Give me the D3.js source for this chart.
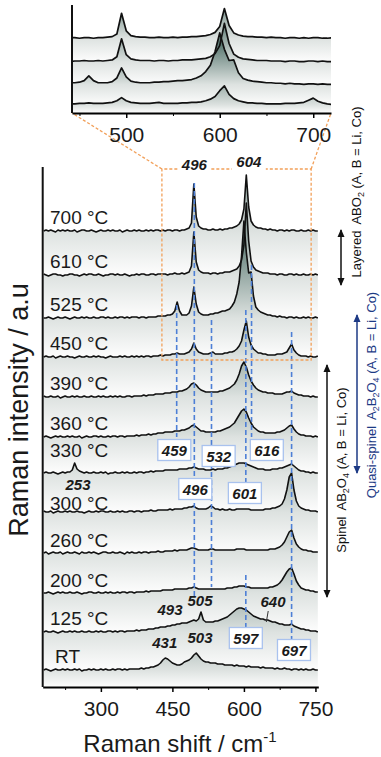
<!DOCTYPE html>
<html lang="en">
<head>
<meta charset="UTF-8">
<title>Raman spectra vs temperature</title>
<script src="https://d3js.org/d3.v7.min.js"></script>
<style>
    body{
        margin: 0;
        background: white;
    }
    svg{
        display: block;
        font-family: "Liberation Sans", Arial, sans-serif;
    }
</style>
</head>
<body>
<svg></svg>
<script>
    const width = 381;
    const height = 757;

    /* spectra sampled every 5 cm-1, from 180 to 755 */
    const shifts = d3.range(180, 756, 5);

    const temps = ['700 °C', '610 °C', '525 °C', '450 °C', '390 °C', '360 °C',
                   '330 °C', '300 °C', '260 °C', '200 °C', '125 °C', 'RT'];
    /* vertical stacking offset of every spectrum (a.u.) */
    const offsets = [456, 412, 369, 330, 290, 250, 214, 175, 134, 94, 55, 17];

    const s700 = [0,1,0,1,0,-1,1,0,1,0, 1,0,0,1,-1,0,1,1,0,0, 1,0,-1,0,1,0,0,1,0,1,
        0,0,1,-1,0,1,0,0,1,0, 1,0,0,1,0,1,0,1,1,0, 1,0,1,1,0,1,1,0,1,1,
        2,3,8,47,14,5,3,2,2,1, 1,2,1,1,2,1,2,2,3,3, 4,5,7,11,22,56,24,10,6,4,
        3,3,2,2,1,2,1,1,0,1, 1,0,1,0,1,1,0,0,1,0, 0,1,0,1,0,0];
    const s610 = [1,0,-1,0,1,1,0,0,-1,0, 0,1,1,0,0,-1,0,1,0,1, 1,0,0,1,0,-1,0,0,1,1,
        0,1,0,0,1,0,-1,0,0,1, 0,1,1,0,0,1,1,0,1,1, 1,1,0,1,1,2,1,1,2,1,
        2,3,9,43,13,5,3,2,2,2, 1,2,2,1,2,2,3,3,3,4, 5,6,9,15,30,72,34,14,8,5,
        4,3,2,2,2,1,1,1,0,1, 1,0,0,1,1,0,1,0,0,1, 0,0,1,0,1,0];
    const s525 = [0,0,1,0,-1,0,1,0,0,1, 0,-1,0,1,0,0,1,0,1,0, 0,1,0,0,1,1,0,1,0,0,
        1,0,1,1,0,1,0,1,1,1, 0,1,1,0,1,1,1,1,2,2, 2,2,3,3,4,7,16,7,3,3,
        3,5,12,31,14,6,4,3,3,3, 4,4,5,5,6,7,7,8,9,12, 16,24,36,62,97,66,45,46,22,11,
        8,6,5,4,3,3,2,2,1,2, 1,1,0,1,1,0,1,0,0,1, 0,1,0,0,1,0];
    const s450 = [0,1,0,0,1,-1,0,1,0,0, 1,0,0,-1,0,1,0,0,1,0, 0,1,0,1,0,0,-1,0,1,0,
        0,0,1,0,1,0,0,1,0,1, 0,1,0,1,1,0,1,1,1,2, 1,2,2,2,3,3,4,3,3,3,
        4,5,8,14,8,5,4,3,3,3, 4,5,3,3,3,3,4,4,5,5, 6,8,11,16,27,36,20,12,8,6,
        4,4,3,3,2,2,2,2,3,3, 3,4,5,9,13,7,4,2,1,1, 1,0,1,0,0,1];
    const s390 = [1,0,0,1,0,0,1,-1,0,1, 0,0,1,0,1,0,0,1,0,0, 1,0,0,1,0,1,0,0,1,0,
        1,0,1,0,0,1,1,0,1,1, 1,1,2,1,2,2,2,3,3,3, 3,4,4,4,5,5,5,6,6,7,
        8,10,13,14,12,9,7,6,5,5, 5,5,5,5,6,6,7,8,9,11, 13,17,23,31,35,30,22,16,12,9,
        7,6,5,5,4,4,4,3,3,3, 3,4,5,5,6,4,3,2,2,1, 1,1,0,1,0,0];
    const s360 = [0,1,0,-1,0,1,0,1,0,0, 1,0,1,0,0,1,-1,0,1,0, 0,1,1,0,1,0,0,1,0,1,
        1,0,1,1,0,1,1,1,1,2, 1,2,2,2,3,2,3,3,4,4, 4,5,5,5,5,6,6,6,7,7,
        8,9,11,12,10,8,6,6,5,5, 5,5,5,6,6,7,8,9,10,12, 14,18,22,26,28,25,19,14,10,8,
        6,5,5,4,4,4,4,4,5,5, 6,7,9,11,12,8,5,3,2,2, 1,1,1,0,1,0];
    const s330 = [0,1,0,0,1,0,-1,0,1,0, 1,1,3,10,4,2,1,0,1,0, 0,1,0,0,1,0,1,-1,0,0,
        1,0,0,1,0,1,0,0,1,0, 1,1,0,1,1,2,1,2,2,2, 2,3,3,3,3,3,3,4,4,4,
        4,5,5,6,5,4,4,4,3,3, 3,4,3,4,4,4,5,5,6,7, 8,9,10,10,10,9,8,7,6,5,
        4,4,4,3,3,3,4,4,4,5, 5,6,7,8,9,7,5,3,2,2, 1,1,0,1,0,0];
    const s300 = [1,0,0,1,-1,0,1,0,0,1, 0,1,0,0,1,0,0,-1,0,1, 0,0,1,0,1,1,0,0,1,0,
        0,1,0,1,0,0,1,1,0,1, 1,0,1,1,1,2,1,1,2,2, 2,2,2,3,2,3,3,3,3,4,
        4,5,5,6,4,3,3,3,3,4, 6,5,3,3,2,3,2,2,3,2, 2,3,3,3,3,3,3,2,2,2,
        2,2,2,3,3,3,4,4,5,6, 8,13,22,35,39,22,11,6,4,3, 2,2,1,1,1,0];
    const s260 = [0,1,-1,0,1,0,0,1,-1,0, 1,0,0,1,0,-1,1,0,0,1, 0,1,0,-1,0,1,1,0,0,1,
        0,0,1,0,-1,1,0,1,0,0, 1,0,1,1,0,1,1,1,2,1, 1,2,2,2,2,3,2,3,3,3,
        3,4,5,5,4,3,3,3,3,3, 4,4,3,3,3,3,3,3,3,3, 3,4,4,4,4,3,3,3,3,3,
        3,3,3,3,3,4,4,4,5,6, 8,11,16,21,23,15,9,6,4,3, 3,2,2,1,1,1];
    const s200 = [0,0,1,0,-1,0,1,0,1,0, 0,1,0,0,1,0,-1,0,0,1, 1,0,0,1,0,0,1,0,1,0,
        0,1,0,1,1,0,1,1,0,1, 1,1,1,2,1,2,2,2,2,2, 3,3,3,3,3,4,4,4,4,4,
        4,5,5,6,5,4,4,4,4,4, 4,4,4,4,4,4,4,5,5,5, 6,6,7,7,7,6,6,5,5,5,
        5,5,5,5,5,6,6,7,8,10, 13,17,21,24,25,19,12,8,5,4, 3,3,2,2,1,1];
    const s125 = [0,1,0,0,1,0,-1,0,1,0, 0,1,0,1,0,0,1,0,0,1, 0,0,1,0,1,0,0,1,1,0,
        1,0,1,1,0,1,1,1,1,2, 1,2,2,2,3,3,3,4,4,5, 5,5,6,6,7,7,8,8,9,9,
        9,10,11,12,11,13,20,12,10,10, 10,10,11,11,12,13,14,15,17,19, 21,23,24,24,23,22,20,18,16,15,
        14,13,13,12,12,11,10,10,9,8, 8,7,7,7,8,6,5,4,3,3, 2,2,1,1,1,0];
    const sRT = [0,1,0,-1,0,1,0,0,1,0, 1,0,0,1,0,1,-1,0,0,1, 0,1,0,0,1,0,1,0,0,1,
        0,1,1,0,1,0,1,1,1,1, 1,2,1,2,2,3,3,4,5,7, 10,12,11,9,7,6,5,5,6,8,
        9,10,12,15,17,14,11,9,8,8, 7,7,7,6,6,6,5,5,5,5, 4,5,4,4,4,3,4,3,3,3,
        3,2,3,2,2,2,2,1,2,1, 1,2,1,1,0,1,1,0,1,0, 1,0,0,1,0,0];

    const spectra = [s700, s610, s525, s450, s390, s360, s330, s300, s260, s200, s125, sRT];

    const xTicks = [300, 450, 600, 750];
    const xMinor = [225, 375, 525, 675];
    const insetTicks = [500, 600, 700];
    const insetMinor = [450, 550, 650];

    /* blue guide lines: shift, top and bottom in a.u. */
    const guides = [
        {shift: 459, from: 382, to: 250},
        {shift: 496, from: 504, to: 90},
        {shift: 532, from: 367, to: 100},
        {shift: 604, from: 377, to: 204},
        {shift: 604, from: 112, to: 59},
        {shift: 616, from: 422, to: 250},
        {shift: 700, from: 355, to: 47}
    ];
    /* boxed peak labels: centre shift, centre a.u. */
    const boxed = [
        {text: '459', shift: 454, v: 237},
        {text: '532', shift: 547, v: 231},
        {text: '616', shift: 648, v: 237},
        {text: '496', shift: 498, v: 198},
        {text: '601', shift: 602, v: 194},
        {text: '597', shift: 604, v: 49},
        {text: '697', shift: 705, v: 37}
    ];
    /* free peak labels: centre shift, baseline a.u. */
    const peakLabels = [
        {text: '253', shift: 252, v: 197},
        {text: '493', shift: 445, v: 72},
        {text: '505', shift: 508, v: 81},
        {text: '640', shift: 661, v: 80},
        {text: '431', shift: 434, v: 39},
        {text: '503', shift: 508, v: 44}
    ];
    const labelLift = [7, 7, 7, 7, 7, 7, 16, 2, 6, 6, 7, 7];

    const svg = d3.select('svg')
        .attr('width', width)
        .attr('height', height);
    const defs = svg.append('defs');

    const x = d3.scaleLinear().domain([178, 756]).range([42.7, 318.3]);
    const y = d3.scaleLinear().domain([0, 520]).range([687, 167]);

    /* inset scales (zoom on the four top spectra) */
    const xi = d3.scaleLinear().domain([442, 719]).range([72, 331]);
    const yi = d3.scaleLinear().domain([330, 530]).range([105, -1]);

    function points(k){
        return spectra[k].map((v, i) => [shifts[i], offsets[k] + v]);
    }

    /* gradient under each spectrum: dark on tall peaks, grey at baseline, white below */
    function addGradient(id, yTop, yBase, yBottom){
        const g = defs.append('linearGradient')
            .attr('id', id)
            .attr('gradientUnits', 'userSpaceOnUse')
            .attr('x1', 0).attr('x2', 0)
            .attr('y1', yTop).attr('y2', yBottom);
        g.append('stop').attr('offset', 0).attr('stop-color', '#5c7a73');
        g.append('stop').attr('offset', (yBase - yTop) / (yBottom - yTop)).attr('stop-color', '#dde2e0');
        g.append('stop').attr('offset', 1).attr('stop-color', '#fdfdfd');
    }

    /* ---------- main plot ---------- */
    defs.append('clipPath').attr('id', 'mainClip')
        .append('rect').attr('x', x.range()[0]).attr('y', 0)
        .attr('width', x.range()[1] - x.range()[0]).attr('height', y(0));

    const plot = svg.append('g').attr('clip-path', 'url(#mainClip)');

    spectra.forEach((s, k) => {
        const bottom = k < offsets.length - 1 ? offsets[k + 1] : 0;
        addGradient('mg' + k, y(offsets[k] + 80), y(offsets[k]), y(bottom));
        plot.append('path')
            .datum(points(k))
            .attr('fill', 'url(#mg' + k + ')')
            .attr('d', d3.area().x(d => x(d[0])).y0(y(bottom)).y1(d => y(d[1])));
    });

    /* blue dashed guides */
    svg.append('g').selectAll('line')
        .data(guides).join('line')
        .attr('x1', d => x(d.shift)).attr('x2', d => x(d.shift))
        .attr('y1', d => y(d.from)).attr('y2', d => y(d.to))
        .attr('stroke', '#4d7fd6')
        .attr('stroke-width', 1.6)
        .attr('stroke-dasharray', '5,3');

    /* orange zoom box and connectors */
    const zoomBox = {x0: 428, x1: 741, top: 518, bottom: 327};
    const orange = svg.append('g')
        .attr('fill', 'none')
        .attr('stroke', '#f2a05a')
        .attr('stroke-width', 1.3)
        .attr('stroke-dasharray', '3,2');
    const bx0 = x(zoomBox.x0), bx1 = x(zoomBox.x1), by0 = y(zoomBox.top), by1 = y(zoomBox.bottom);
    const gap496 = x(496), gap604 = x(604) + 3;
    orange.append('path').attr('d',
        `M${gap496 - 17},${by0} L${bx0},${by0} L${bx0},${by1} L${bx1},${by1} L${bx1},${by0} L${gap604 + 17},${by0}` +
        ` M${gap496 + 17},${by0} L${gap604 - 17},${by0}`);
    orange.append('line').attr('x1', bx0).attr('y1', by0).attr('x2', xi.range()[0]).attr('y2', 113);
    orange.append('line').attr('x1', bx1).attr('y1', by0).attr('x2', xi.range()[1]).attr('y2', 113);

    svg.append('g').attr('font-weight', 'bold').attr('font-style', 'italic')
        .attr('font-size', 15).attr('text-anchor', 'middle').attr('fill', '#1a1a1a')
        .selectAll('text').data([496, 604]).join('text')
        .attr('x', (d, i) => i ? gap604 : gap496)
        .attr('y', (d, i) => by0 + (i ? -2 : 1))
        .text(d => d);

    /* spectra lines */
    spectra.forEach((s, k) => {
        plot.append('path')
            .datum(points(k))
            .attr('fill', 'none')
            .attr('stroke', '#111')
            .attr('stroke-width', 1.6)
            .attr('stroke-linejoin', 'round')
            .attr('d', d3.line().x(d => x(d[0])).y(d => y(d[1])));
    });

    /* temperature labels */
    svg.append('g').attr('font-size', 19).attr('fill', '#1a1a1a')
        .selectAll('text').data(temps).join('text')
        .attr('x', (d, i) => i === temps.length - 1 ? 55 : 50)
        .attr('y', (d, i) => y(offsets[i]) - labelLift[i])
        .text(d => d);

    /* boxed peak labels */
    const boxes = svg.append('g').selectAll('g').data(boxed).join('g')
        .attr('transform', d => `translate(${x(d.shift)},${y(d.v)})`);
    boxes.append('rect')
        .attr('x', -16.5).attr('y', -10.5).attr('width', 33).attr('height', 21)
        .attr('fill', 'white').attr('stroke', '#a9c2ee').attr('stroke-width', 1.3);
    boxes.append('text')
        .attr('text-anchor', 'middle').attr('y', 5.5)
        .attr('font-size', 15).attr('font-weight', 'bold').attr('font-style', 'italic')
        .attr('fill', '#1a1a1a')
        .text(d => d.text);

    /* free peak labels */
    svg.append('g').attr('font-size', 15).attr('font-weight', 'bold').attr('font-style', 'italic')
        .attr('text-anchor', 'middle').attr('fill', '#1a1a1a')
        .selectAll('text').data(peakLabels).join('text')
        .attr('x', d => x(d.shift)).attr('y', d => y(d.v))
        .text(d => d.text);
    svg.append('line')
        .attr('x1', x(651)).attr('y1', y(76)).attr('x2', x(647)).attr('y2', y(65))
        .attr('stroke', '#333').attr('stroke-width', 1);

    /* axes */
    const xAxis = svg.append('g')
        .attr('transform', `translate(0,${y(0)})`)
        .call(d3.axisBottom(x).tickValues(xTicks).tickSize(5).tickSizeOuter(0).tickPadding(9));
    xAxis.select('.domain').attr('stroke-width', 2);
    xAxis.selectAll('.tick line').attr('stroke-width', 1.5);
    xAxis.selectAll('text').attr('font-size', 21).attr('font-family', null).attr('fill', '#1a1a1a');
    svg.append('g')
        .attr('transform', `translate(0,${y(0)})`)
        .call(d3.axisBottom(x).tickValues(xMinor).tickSize(3).tickFormat(''))
        .call(g => g.select('.domain').remove());
    svg.append('line')
        .attr('x1', x.range()[0]).attr('x2', x.range()[0])
        .attr('y1', y(520)).attr('y2', y(0))
        .attr('stroke', '#111').attr('stroke-width', 2);

    svg.append('text')
        .attr('transform', `translate(28,410) rotate(-90)`)
        .attr('text-anchor', 'middle')
        .attr('font-size', 27).attr('fill', '#1a1a1a')
        .text('Raman intensity / a.u');

    const xl = svg.append('text')
        .attr('x', 180).attr('y', 752)
        .attr('text-anchor', 'middle')
        .attr('font-size', 24).attr('fill', '#1a1a1a');
    xl.append('tspan').text('Raman shift / cm');
    xl.append('tspan').attr('font-size', 15).attr('dy', -10).text('-1');

    /* ---------- inset ---------- */
    defs.append('clipPath').attr('id', 'insetClip')
        .append('rect').attr('x', xi.range()[0]).attr('y', -5)
        .attr('width', xi.range()[1] - xi.range()[0]).attr('height', 118);
    const inset = svg.append('g').attr('clip-path', 'url(#insetClip)');
    const insetBottom = 315;

    [0, 1, 2, 3].forEach(k => {
        const bottom = k < 3 ? offsets[k + 1] : insetBottom;
        addGradient('ig' + k, yi(offsets[k] + 75), yi(offsets[k]), yi(bottom));
        inset.append('path')
            .datum(points(k))
            .attr('fill', 'url(#ig' + k + ')')
            .attr('d', d3.area().x(d => xi(d[0])).y0(yi(bottom)).y1(d => yi(d[1])));
    });
    [0, 1, 2, 3].forEach(k => {
        inset.append('path')
            .datum(points(k))
            .attr('fill', 'none')
            .attr('stroke', '#111')
            .attr('stroke-width', 1.7)
            .attr('stroke-linejoin', 'round')
            .attr('d', d3.line().x(d => xi(d[0])).y(d => yi(d[1])));
    });

    const ia = svg.append('g')
        .attr('transform', 'translate(0,113)')
        .call(d3.axisBottom(xi).tickValues(insetTicks).tickSize(5).tickSizeOuter(0).tickPadding(9));
    ia.select('.domain').attr('stroke-width', 2);
    ia.selectAll('.tick line').attr('stroke-width', 1.5);
    ia.selectAll('text').attr('font-size', 21).attr('font-family', null).attr('fill', '#1a1a1a');
    svg.append('g')
        .attr('transform', 'translate(0,113)')
        .call(d3.axisBottom(xi).tickValues(insetMinor).tickSize(3).tickFormat(''))
        .call(g => g.select('.domain').remove());
    svg.append('line')
        .attr('x1', xi.range()[0]).attr('x2', xi.range()[0])
        .attr('y1', 5).attr('y2', 113)
        .attr('stroke', '#111').attr('stroke-width', 2);

    /* ---------- phase arrows on the right ---------- */
    function marker(id, color){
        defs.append('marker')
            .attr('id', id)
            .attr('viewBox', '0 0 8 8')
            .attr('refX', 7).attr('refY', 4)
            .attr('markerWidth', 8).attr('markerHeight', 8)
            .attr('markerUnits', 'userSpaceOnUse')
            .attr('orient', 'auto-start-reverse')
            .append('path').attr('d', 'M0,0.5 L8,4 L0,7.5 z').attr('fill', color);
    }
    marker('headBlack', '#111');
    marker('headNavy', '#1d3a85');

    const phases = [
        {x: 341, from: 457, to: 402, color: '#111', head: 'headBlack',
         tx: 361, ty: 495, parts: ['Layered', 'ABO', '2', ' (A, B = Li, Co)']},
        {x: 357, from: 372, to: 214, color: '#1d3a85', head: 'headNavy',
         tx: 376, ty: 292, parts: ['Quasi-spinel', 'A', '2', 'B', '2', 'O', '4', ' (A, B = Li, Co)']},
        {x: 327, from: 322, to: 90, color: '#111', head: 'headBlack',
         tx: 346, ty: 217, parts: ['Spinel', 'AB', '2', 'O', '4', ' (A, B = Li, Co)']}
    ];

    phases.forEach(p => {
        svg.append('line')
            .attr('x1', p.x).attr('x2', p.x)
            .attr('y1', y(p.from)).attr('y2', y(p.to))
            .attr('stroke', p.color).attr('stroke-width', 1.5)
            .attr('marker-start', `url(#${p.head})`)
            .attr('marker-end', `url(#${p.head})`);
        const t = svg.append('text')
            .attr('transform', `translate(${p.tx},${y(p.ty)}) rotate(-90)`)
            .attr('text-anchor', 'middle')
            .attr('font-size', 13).attr('fill', p.color);
        p.parts.forEach((s, i) => {
            const sub = /^\d$/.test(s);
            const prevSub = i > 0 && /^\d$/.test(p.parts[i - 1]);
            const ts = t.append('tspan').text(s);
            if(sub){
                ts.attr('font-size', 9).attr('dy', prevSub ? 0 : 3);
            }else if(prevSub){
                ts.attr('dy', -3);
            }
            if(i === 1) ts.attr('dx', 6);
        });
    });
</script>
</body>
</html>
